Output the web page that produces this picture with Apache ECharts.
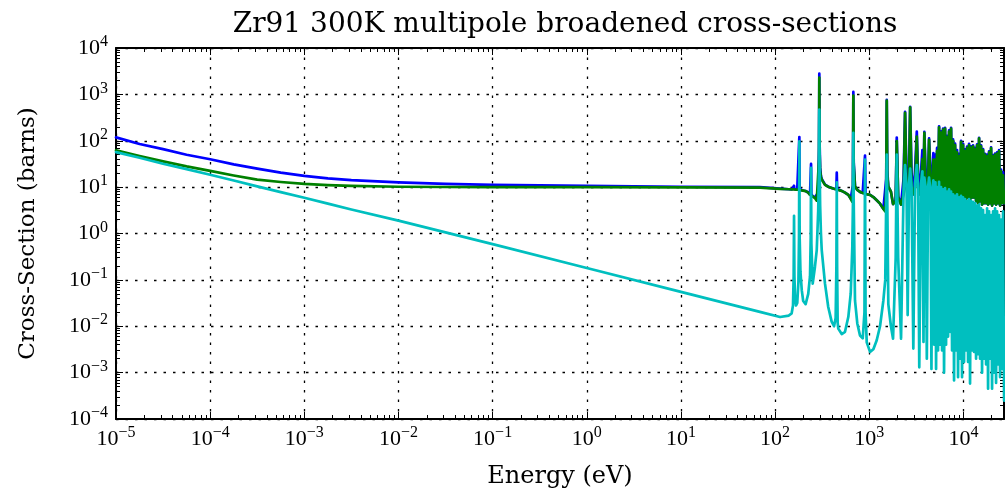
<!DOCTYPE html>
<html><head><meta charset="utf-8">
<script src="https://cdn.jsdelivr.net/npm/echarts@6/dist/echarts.min.js"></script>
<style>html,body{margin:0;padding:0;background:#fff}#c{width:1005px;height:495px}</style>
</head><body><div id="c"></div>
<script>
// ---------- data (energies in eV, cross-sections in barns) ----------
// smooth low-energy region
const lowE   = [1e-5, 1.78e-5, 3.16e-5, 5.62e-5, 1e-4, 1.78e-4, 3.16e-4, 5.62e-4, 1e-3, 1.78e-3, 3.16e-3, 1e-2, 3.16e-2, 1e-1, 1, 10, 69, 113];
const lowTot = [118, 85, 66, 50, 40, 31, 25, 20.5, 17.5, 15.5, 14.1, 12.6, 11.7, 11.2, 10.6, 10.2, 10.0, 9.3];
const lowEla = [62, 47, 36, 28, 22.4, 17.8, 14.5, 12.9, 11.7, 11.0, 10.6, 10.2, 10.05, 10.0, 10.0, 9.9, 9.8, 9.2];
const lowAbs = [57, 43, 32, 24.5, 18.5, 13.9, 10.4, 7.8, 5.9, 4.4, 3.3, 1.9, 1.06, 0.59, 0.18, 0.055, 0.0204, 0.0158];

// resolved resonances 140 eV - 1.8 keV
const resE = [140,150,155,157.5,159,160.5,163,167,172,177,179.5,181,182.5,186,192,199,211,225,235,239,241,243,251,265,277,287,293,295,297,301,307,313,339,367,399,423,440,448,452,456,462,469,510,553,600,636,661,672,678,684,706,747,798,853,890,902,914,941,1020,1106,1201,1302,1413,1480,1515,1535,1555,1595,1700,1790];
const resEla = [9.0,8.9,8.9,8.9,8.9,8.9,8.85,8.8,8.8,8.8,8.8,8.8,8.7,8.6,8.5,8.4,8.2,7.6,6.8,6.7,6.6,6.5,6.3,5.8,5.1,4.7,40,2300,60,22,16.5,14.5,11.2,10.2,9.6,9.2,9.0,8.9,8.9,8.9,8.85,8.8,8.3,7.6,6.8,5.6,4.8,6,940,30,10.5,8.7,7.9,7.5,7.3,7.2,7.1,7.0,6.8,6.1,5.2,4.4,3.4,3.0,10,730,18,10.2,8.0,4.3];
const resAbs = [0.017,0.019,0.028,0.12,2.4,0.12,0.04,0.028,0.032,0.09,0.8,97,0.8,0.15,0.06,0.035,0.030,0.05,0.12,0.8,26,0.6,0.083,0.19,0.44,3,30,470,30,4,1.0,0.44,0.083,0.026,0.0126,0.010,0.015,0.2,12.6,0.2,0.012,0.0089,0.0068,0.0076,0.016,0.051,0.5,5,148,5,0.036,0.0115,0.0063,0.0055,0.02,39,0.02,0.0045,0.0028,0.0032,0.005,0.01,0.036,0.1,5,50,5,0.03,0.01,0.0054];
const resTot = [9.0,8.9,8.9,9.0,10.7,9.0,8.9,8.8,8.8,8.9,9.6,120,9.5,8.75,8.55,8.45,8.25,7.65,6.9,7.5,31.6,7.1,6.4,6.0,5.5,7.7,70,2800,90,26,17.5,15,11.3,10.2,9.6,9.2,9.0,9.1,20.5,9.1,8.85,8.8,8.3,7.6,6.8,5.65,5.3,11,1130,35,10.5,8.7,7.9,7.5,7.3,48,7.1,7.0,6.8,6.1,5.2,4.4,3.4,3.1,15,760,23,10.2,8.0,4.3];

// dense resonance forest 1.9 keV - 27 keV
const denseE = [1910,1960,2030,2177,2315,2402,2490,2560,2649,2720,2815,2940,3068,3200,3300,3400,3553,3670,3770,3850,3970,4090,4220,4320,4480,4580,4680,4800,4900,5050,5127,5253,5383,5517,5653,5793,5937,6083,6234,6388,6546,6708,6875,7044,7219,7397,7580,7767,7960,8156,8358,8565,8777,8994,9217,9445,9679,9919,10165,10417,10675,10939,11210,11488,11772,12064,12363,12669,12983,13304,13634,13971,14317,14672,15035,15408,15789,16180,16581,16992,17413,17844,18286,18739,19203,19678,20166,20665,21177,21701,22239,22790,23354,23932,24525,25132,25755,26393,27046];
const denseEla = [5.0,98,6.0,4.2,7,400,9,6.5,12,525,10,7.0,11,123,10,7.0,10,40,9.0,148,10,7.5,10,105,9,6.5,9,39,8.0,39,6.5,60,6.0,195,7,150,6.5,174,6,182,7,120,6.5,158,7,182,6,100,5.5,81,6,56,5,46,5.5,95,6,80,6,60,5.5,70,6,81,5,71,6,76,6,66,5,80,4.5,112,5,76,4.2,63,4.5,50,4.5,46,4.2,56,4.5,69,4,46,4.5,50,4.2,53,4.5,60,4,22,4.5,18,4.5];
const denseAbs = [0.3,50,0.3,0.0054,8,30,10,0.0174,12,25,10,0.0033,12,30,10,0.0013,12,22,0.0046,16,10,0.002,10,16,8,0.0012,8,14,0.004,12.6,0.0012,10,0.003,13,0.004,10,0.003,9,0.001,9.5,0.004,8,0.006,9,0.0076,8,0.003,7,0.00068,6.5,0.003,7,0.0008,6,0.002,6.5,0.0008,6,0.0017,5.5,0.003,5,0.0017,5.5,0.00058,5,0.003,4.8,0.0028,4.5,0.002,4,0.0025,4.2,0.002,3.5,0.001,3.2,0.002,2.5,0.0015,3.5,0.00045,3,0.002,2.5,0.00045,3,0.001,3.5,0.0006,3,0.0015,2.5,0.0008,2,0.0012,3,0.00025];
const denseTot = [5.3,117,6.3,4.2,15,420,19,6.5,24,540,20,7.0,23,158,20,7.0,22,63,9.0,155,20,7.5,20,112,17,6.5,17,54,8.0,50,6.5,70,6.0,205,7,160,6.5,183,6,190,7,128,6.5,167,7,190,6,107,5.5,87,6,63,5,52,5.5,100,6,86,6,65,5.5,75,6,86,5,76,6,80,6,70,5,84,4.5,116,5,80,4.2,66,4.5,52,4.5,50,4.2,59,4.5,72,4,49,4.5,53,4.2,56,4.5,63,4,24,4.5,21,4.5];

const xTickExps = [-5,-4,-3,-2,-1,0,1,2,3,4];
const yTickExps = [-4,-3,-2,-1,0,1,2,3,4];
const titleText = 'Zr91 300K multipole broadened cross-sections';
const xName = 'Energy (eV)';
const yName = 'Cross-Section (barns)';

// ---------- build ----------
const E = lowE.concat(resE, denseE);
function pairs(V){ return E.map((e,i)=>[e, V[i]]); }
const totData = pairs(lowTot.concat(resTot, denseTot));
const elaData = pairs(lowEla.concat(resEla, denseEla));
const absData = pairs(lowAbs.concat(resAbs, denseAbs));

const TF = 'Liberation Serif';
const NF = 'DejaVu Serif';
const rich = {
  b: {fontFamily: TF, fontSize: 22, color: '#000', lineHeight: 28},
  s: {fontFamily: TF, fontSize: 16, color: '#000', verticalAlign: 'top'}
};
function fmt(exps){
  return function(v){
    const l = Math.log10(v);
    const e = Math.round(l);
    if (Math.abs(l - e) > 1e-6 || exps.indexOf(e) < 0) return '';
    return '{b|10}{s|' + (e < 0 ? '\u2212' + (-e) : e) + '}';
  };
}
const split = {show: true, lineStyle: {color: '#000', width: 1.3, type: [2.5, 7]}};
function axis(kind, pos, main){
  const isX = kind === 'x';
  return {
    type: 'log', logBase: 10, position: pos,
    min: isX ? 1e-5 : 1e-4, max: isX ? 27000 : 1e4,
    axisLine: {show: true, onZero: false, lineStyle: {color: '#000', width: 2}},
    axisTick: {show: true, inside: true, length: 7, lineStyle: {color: '#000', width: 1}},
    minorTick: {show: true, splitNumber: 9, length: 4, lineStyle: {color: '#000', width: 1}},
    splitLine: main ? split : {show: false},
    minorSplitLine: {show: false},
    axisLabel: main ? {show: true, formatter: fmt(isX ? xTickExps : yTickExps), rich: rich,
      margin: isX ? 6 : 8, showMaxLabel: isX ? false : true, hideOverlap: false} : {show: false},
    name: main ? (isX ? xName : yName) : '',
    nameLocation: 'middle', nameGap: isX ? 46 : 76,
    nameTextStyle: {fontFamily: NF, fontSize: isX ? 24 : 23, color: '#000'}
  };
}
const chart = echarts.init(document.getElementById('c'), null, {renderer: 'canvas'});
function line(name, color, data){
  return {type: 'line', name: name, data: data, showSymbol: false, symbol: 'none',
    sampling: null, silent: true, clip: true, animation: false,
    lineStyle: {color: color, width: 2.7, join: 'round', cap: 'round'}};
}
chart.setOption({
  animation: false,
  backgroundColor: '#fff',
  title: {text: titleText, left: 560, textAlign: 'center', top: 6,
    textStyle: {fontFamily: NF, fontSize: 28, fontWeight: 'normal', color: '#000'}},
  grid: {left: 116, right: 1, top: 48, bottom: 76, containLabel: false},
  xAxis: [axis('x', 'bottom', true), axis('x', 'top', false)],
  yAxis: [axis('y', 'left', true), axis('y', 'right', false)],
  series: [
    line('Total', '#0000ff', totData),
    line('Elastic', '#008000', elaData),
    line('Absorption', '#00bfbf', absData)
  ]
});
</script></body></html>
